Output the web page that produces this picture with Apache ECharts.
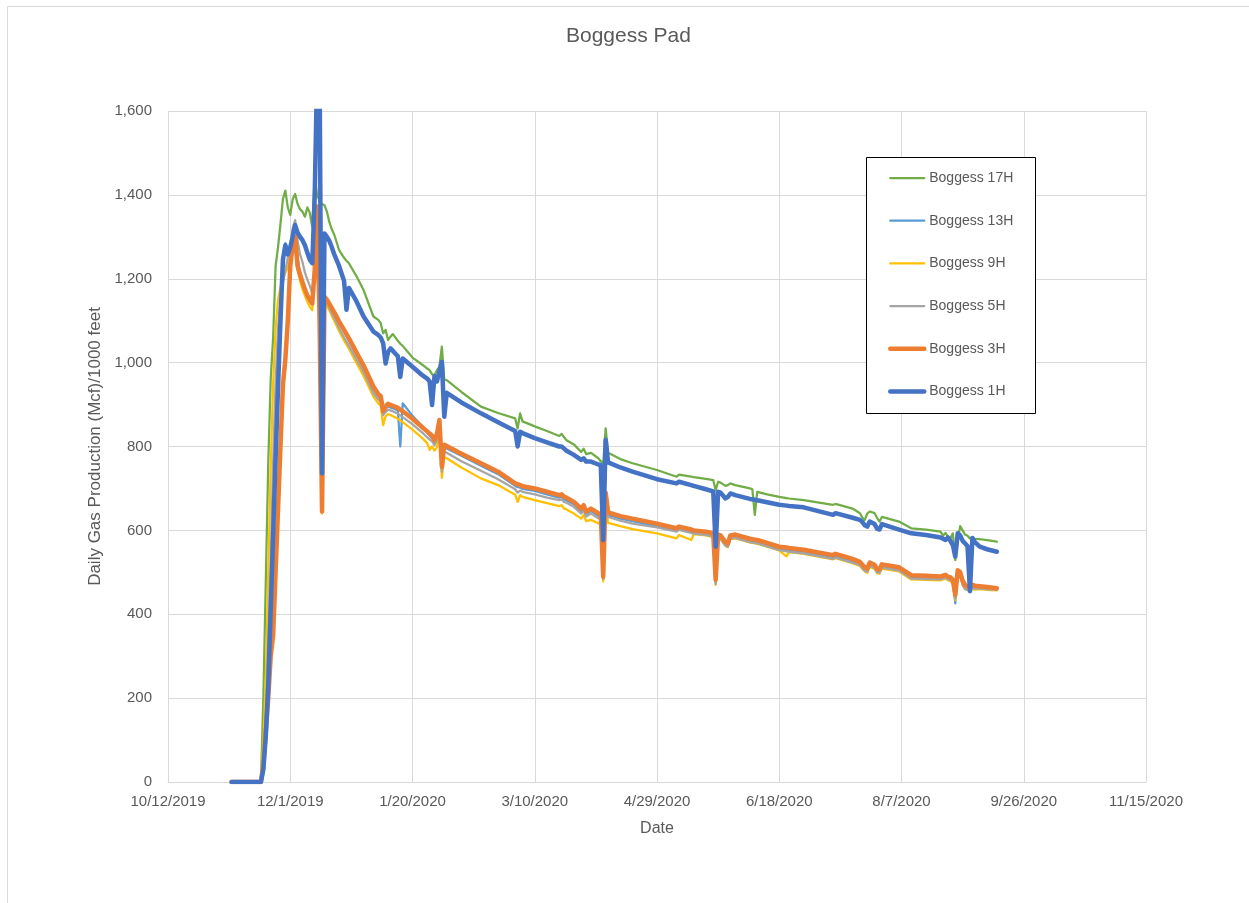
<!DOCTYPE html>
<html>
<head>
<meta charset="utf-8">
<title>Boggess Pad</title>
<script src="https://cdn.jsdelivr.net/npm/echarts@6.0.0/dist/echarts.min.js"></script>
<style>
  html, body { margin: 0; padding: 0; background: #ffffff; }
  #chart { width: 1249px; height: 903px; }
</style>
</head>
<body>
<div id="chart"></div>
<script>
// Production dates shared by every well (daily readings around events, sparser on the smooth decline)
const dates = [
  '2019-11-07', '2019-11-19',
  '2019-11-20', '2019-11-21', '2019-11-22', '2019-11-23', '2019-11-24', '2019-11-25', '2019-11-26', '2019-11-27', '2019-11-28', '2019-11-29',
  '2019-11-30', '2019-12-01', '2019-12-02', '2019-12-03', '2019-12-04', '2019-12-05', '2019-12-06', '2019-12-07', '2019-12-08', '2019-12-09',
  '2019-12-10', '2019-12-11', '2019-12-12', '2019-12-13', '2019-12-14', '2019-12-15', '2019-12-16', '2019-12-17', '2019-12-18', '2019-12-19',
  '2019-12-21', '2019-12-23', '2019-12-24', '2019-12-25', '2019-12-28', '2019-12-31',
  '2020-01-04', '2020-01-06', '2020-01-07', '2020-01-08', '2020-01-09', '2020-01-10', '2020-01-11', '2020-01-12',
  '2020-01-14', '2020-01-15', '2020-01-16', '2020-01-20', '2020-01-24',
  '2020-01-26', '2020-01-27', '2020-01-28', '2020-01-29', '2020-01-30', '2020-01-31', '2020-02-01', '2020-02-02', '2020-02-03',
  '2020-02-09', '2020-02-17', '2020-02-24',
  '2020-03-02', '2020-03-03', '2020-03-04', '2020-03-05',
  '2020-03-10', '2020-03-15', '2020-03-20', '2020-03-21', '2020-03-22', '2020-03-23',
  '2020-03-26', '2020-03-29', '2020-03-30', '2020-03-31', '2020-04-02',
  '2020-04-05', '2020-04-06', '2020-04-07', '2020-04-08', '2020-04-09',
  '2020-04-14', '2020-04-19', '2020-04-29', '2020-05-07', '2020-05-08', '2020-05-13', '2020-05-14', '2020-05-19',
  '2020-05-22', '2020-05-23', '2020-05-24', '2020-05-25',
  '2020-05-27', '2020-05-28', '2020-05-29', '2020-05-31',
  '2020-06-06', '2020-06-07', '2020-06-08', '2020-06-09',
  '2020-06-13', '2020-06-18', '2020-06-21', '2020-06-22', '2020-06-28',
  '2020-07-10', '2020-07-11', '2020-07-18',
  '2020-07-21', '2020-07-22', '2020-07-23', '2020-07-24', '2020-07-25',
  '2020-07-27', '2020-07-28', '2020-07-29', '2020-07-30',
  '2020-08-06', '2020-08-11', '2020-08-17',
  '2020-08-23', '2020-08-24', '2020-08-25', '2020-08-26', '2020-08-27', '2020-08-28', '2020-08-29', '2020-08-30',
  '2020-08-31', '2020-09-01', '2020-09-02', '2020-09-03', '2020-09-04', '2020-09-05', '2020-09-06',
  '2020-09-08', '2020-09-11', '2020-09-15'
];

// Daily gas production, Mcf per 1000 feet of lateral
const boggess17H = [
  0, 0,
  200, 480, 760, 960, 1060, 1230, 1275, 1330, 1390, 1410,
  1370, 1352, 1390, 1402, 1378, 1366, 1360, 1348, 1370, 1357,
  1324, 1443, 1400, 1385, 1378, 1375, 1360, 1335, 1318, 1305,
  1268, 1250, 1243, 1237, 1207, 1173,
  1110, 1102, 1094, 1070, 1078, 1054, 1062, 1068,
  1052, 1045, 1040, 1012, 995,
  986, 982, 972, 970, 982, 990, 1038, 960, 958,
  930, 895, 880,
  867, 843, 879, 860,
  848, 837, 825, 830, 822, 815,
  805, 787, 795, 782, 785,
  772, 765, 760, 843, 785,
  770, 760, 744, 728, 733, 728, 727, 723,
  720, 696, 716, 714,
  706, 708, 712, 708,
  700, 698, 637, 692,
  686, 680, 677, 676, 672,
  661, 663, 652,
  641, 630, 625, 640, 645,
  641, 630, 621, 632,
  621, 605, 602,
  597, 587, 594, 585, 581, 593, 529, 575,
  610, 600, 590, 587, 581, 582, 580,
  579, 577, 573
];

const boggess13H = [
  0, 0,
  40, 140, 260, 420, 650, 880, 1050, 1150, 1250, 1285,
  1265, 1270, 1290, 1300, 1250, 1212, 1193, 1176, 1160, 1150,
  1141, 1221, 1370, 1100, 645, 1155, 1150, 1138, 1128, 1117,
  1094, 1073, 1063, 1053, 1020, 988,
  937, 920, 914, 879, 890, 896, 893, 891,
  886, 800, 903, 873, 848,
  833, 826, 820, 810, 825, 855, 745, 798, 795,
  778, 754, 734,
  706, 703, 702, 699,
  694, 686, 678, 680, 674, 672,
  662, 646, 654, 639, 646,
  635, 632, 485, 684, 637,
  628, 622, 610, 599, 603, 596, 594, 591,
  587, 475, 584, 582,
  566, 563, 582, 584,
  574, 573, 572, 571,
  564, 555, 553, 552, 548,
  535, 538, 526,
  519, 512, 506, 503, 517,
  512, 502, 501, 513,
  506, 487, 486,
  485, 487, 489, 485, 483, 477, 426, 498,
  494, 474, 464, 461, 460, 464, 463,
  463, 461, 459
];

const boggess9H = [
  0, 0,
  100, 250, 500, 750, 950, 1080, 1150, 1180, 1200, 1215,
  1225, 1260, 1290, 1280, 1220, 1195, 1175, 1160, 1145, 1133,
  1125, 1210, 1350, 1100, 640, 1140, 1135, 1125, 1112, 1100,
  1075, 1053, 1043, 1033, 1000, 968,
  919, 903, 897, 851, 872, 877, 875, 872,
  866, 862, 858, 840, 820,
  808, 792, 800, 790, 798, 835, 725, 775, 772,
  750, 724, 708,
  685, 668, 684, 680,
  672, 665, 658, 660, 652, 650,
  640, 628, 637, 622, 625,
  617, 615, 478, 670, 618,
  610, 603, 593, 581, 589, 577, 591, 588,
  584, 470, 581, 579,
  563, 560, 579, 581,
  571, 570, 569, 568,
  561, 552, 538, 548, 544,
  531, 534, 522,
  515, 508, 502, 499, 513,
  508, 498, 497, 509,
  502, 483, 482,
  481, 483, 485, 481, 479, 473, 434, 494,
  490, 470, 460, 457, 456, 460, 459,
  460, 458, 457
];

const boggess5H = [
  0, 0,
  60, 160, 330, 530, 760, 950, 1080, 1150, 1190, 1220,
  1250, 1280, 1320, 1340, 1290, 1258, 1240, 1215, 1198, 1183,
  1165, 1230, 1360, 1100, 650, 1150, 1145, 1130, 1118, 1106,
  1082, 1060, 1050, 1040, 1008, 977,
  927, 912, 906, 875, 882, 888, 886, 884,
  878, 874, 870, 853, 833,
  822, 817, 812, 803, 815, 848, 740, 788, 785,
  765, 742, 722,
  698, 690, 695, 692,
  686, 678, 672, 674, 668, 666,
  656, 640, 648, 633, 640,
  629, 626, 484, 678, 632,
  623, 616, 607, 597, 601, 594, 592, 589,
  585, 472, 582, 580,
  564, 561, 580, 582,
  572, 571, 570, 569,
  562, 553, 550, 549, 545,
  532, 535, 523,
  517, 510, 504, 501, 515,
  510, 500, 499, 511,
  504, 485, 484,
  483, 485, 487, 483, 481, 475, 438, 496,
  492, 470, 460, 458, 458, 462, 461,
  461, 460, 458
];

const boggess3H = [
  0, 0,
  40, 120, 200, 300, 350, 500, 650, 800, 946, 1008,
  1100, 1230, 1280, 1300, 1230, 1210, 1192, 1175, 1160, 1150,
  1141, 1221, 1372, 1100, 645, 1157, 1150, 1140, 1130, 1120,
  1098, 1078, 1068, 1058, 1025, 993,
  943, 925, 920, 885, 895, 902, 899, 897,
  892, 888, 884, 866, 846,
  836, 831, 826, 815, 830, 863, 752, 804, 801,
  783, 760, 740,
  712, 710, 708, 705,
  700, 692, 684, 686, 680, 678,
  668, 652, 660, 645, 652,
  641, 638, 489, 690, 643,
  634, 628, 616, 605, 609, 602, 600, 597,
  593, 482, 590, 588,
  572, 569, 588, 590,
  580, 579, 578, 577,
  570, 561, 559, 558, 554,
  541, 544, 532,
  525, 518, 512, 509, 523,
  518, 508, 507, 519,
  512, 493, 492,
  490, 492, 494, 490, 488, 482, 446, 505,
  500, 480, 470, 466, 465, 470, 468,
  467, 465, 462
];

const boggess1H = [
  0, 0,
  30, 110, 230, 410, 590, 770, 940, 1100, 1245, 1280,
  1258, 1275, 1300, 1328, 1310, 1300, 1292, 1280, 1262, 1245,
  1237, 1396, 1700, 1700, 736, 1308, 1300, 1290, 1275, 1258,
  1230, 1195, 1126, 1178, 1147, 1110,
  1074, 1066, 1060, 1046, 998, 1025, 1034, 1028,
  1015, 966, 1010, 990, 970,
  962, 955, 899, 968, 955, 980, 1002, 871, 928,
  905, 879, 858,
  837, 800, 835, 832,
  820, 810, 800, 800, 795, 790,
  780, 768, 772, 764, 764,
  757, 756, 577, 816, 762,
  750, 740, 722, 712, 716, 708, 706, 698,
  693, 561, 692, 690,
  676, 680, 688, 684,
  675, 674, 673, 672,
  667, 661, 659, 658, 655,
  637, 641, 630,
  625, 620, 612, 609, 621,
  615, 604, 602, 615,
  602, 593, 589,
  583, 580, 577, 583, 575, 565, 537, 593,
  588, 575, 569, 562, 455, 582, 572,
  561, 555, 549
];

// Date axis range and step (days)
const axisStart = '2019-10-12';
const axisEnd = '2020-11-15';
const axisStepDays = 50;

// Value axis range and step
const yMax = 1600;
const yStep = 200;

// Dates are placed on a day-number scale (spreadsheet serial days)
const SERIAL_EPOCH = Date.UTC(1899, 11, 30);
const DAY_MS = 86400000;
function toSerial(iso) {
  const p = iso.split('-').map(Number);
  return Math.round((Date.UTC(p[0], p[1] - 1, p[2]) - SERIAL_EPOCH) / DAY_MS);
}
function serialLabel(v) {
  const d = new Date(SERIAL_EPOCH + v * DAY_MS);
  return (d.getUTCMonth() + 1) + '/' + d.getUTCDate() + '/' + d.getUTCFullYear();
}

const xs = dates.map(toSerial);
const pairs = vals => vals.map((v, i) => [xs[i], v]);

const FONT = "'Liberation Sans', Arial, sans-serif";
const TEXT = '#595959';
const GRID = '#D9D9D9';

const wells = [
  { name: 'Boggess 17H', values: boggess17H, color: '#70AD47', width: 2.25 },
  { name: 'Boggess 13H', values: boggess13H, color: '#5B9BD5', width: 2.25 },
  { name: 'Boggess 9H',  values: boggess9H,  color: '#FFC000', width: 2.25 },
  { name: 'Boggess 5H',  values: boggess5H,  color: '#A5A5A5', width: 2.25 },
  { name: 'Boggess 3H',  values: boggess3H,  color: '#ED7D31', width: 4.5 },
  { name: 'Boggess 1H',  values: boggess1H,  color: '#4472C4', width: 4.5 }
];

const chart = echarts.init(document.getElementById('chart'), null, { renderer: 'canvas' });

chart.setOption({
  animation: false,
  backgroundColor: '#ffffff',
  textStyle: { fontFamily: FONT },
  title: {
    text: 'Boggess Pad',
    left: 566,
    top: 26,
    padding: 0,
    textStyle: { fontFamily: FONT, fontSize: 21, fontWeight: 'normal', color: TEXT }
  },
  graphic: [
    {
      type: 'rect', silent: true, z: -10,
      shape: { x: 7.5, y: 6.5, width: 1300, height: 1000 },
      style: { fill: 'none', stroke: GRID, lineWidth: 1 }
    },
    {
      type: 'rect', silent: true, z: 3,
      shape: { x: 866.5, y: 157.5, width: 169, height: 256 },
      style: { fill: '#ffffff', stroke: '#000000', lineWidth: 1 }
    }
  ],
  legend: {
    orient: 'vertical',
    left: 888,
    top: 171,
    padding: 0,
    itemWidth: 34,
    itemHeight: 14,
    itemGap: 28.7,
    z: 5,
    selectedMode: false,
    itemStyle: { opacity: 0 },
    lineStyle: { width: 'inherit' },
    textStyle: { fontFamily: FONT, fontSize: 14, color: TEXT },
    data: wells.map(w => w.name)
  },
  grid: { left: 168, right: 103, top: 111, bottom: 121 },
  xAxis: {
    type: 'value',
    min: toSerial(axisStart),
    max: toSerial(axisEnd),
    interval: axisStepDays,
    name: 'Date',
    nameLocation: 'middle',
    nameGap: 39,
    nameTextStyle: { fontFamily: FONT, fontSize: 16, color: TEXT },
    axisLine: { show: true, lineStyle: { color: GRID, width: 1 } },
    axisTick: { show: false },
    axisLabel: { formatter: serialLabel, margin: 12, fontFamily: FONT, fontSize: 15, color: TEXT },
    splitLine: { show: true, lineStyle: { color: GRID, width: 1 } }
  },
  yAxis: {
    type: 'value',
    min: 0,
    max: yMax,
    interval: yStep,
    name: 'Daily Gas Production (Mcf)/1000 feet',
    nameLocation: 'middle',
    nameGap: 61,
    nameTextStyle: { fontFamily: FONT, fontSize: 17, color: TEXT },
    axisLine: { show: false },
    axisTick: { show: false },
    axisLabel: {
      formatter: v => v.toLocaleString('en-US'),
      margin: 16, fontFamily: FONT, fontSize: 15, color: TEXT
    },
    splitLine: { show: true, lineStyle: { color: GRID, width: 1 } }
  },
  series: wells.map(w => ({
    name: w.name,
    type: 'line',
    data: pairs(w.values),
    symbol: 'none',
    showSymbol: false,
    clip: true,
    color: w.color,
    lineStyle: { color: w.color, width: w.width, cap: 'round', join: 'round' },
    emphasis: { disabled: true }
  }))
});
</script>
</body>
</html>
